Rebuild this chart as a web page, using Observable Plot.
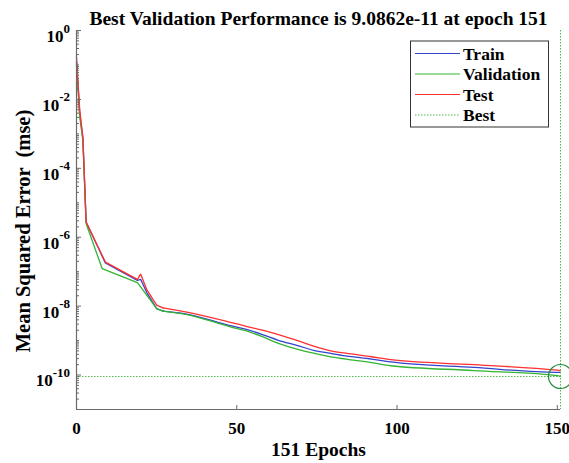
<!DOCTYPE html>
<html><head><meta charset="utf-8">
<script src="https://cdn.jsdelivr.net/npm/d3@7"></script>
<script src="https://cdn.jsdelivr.net/npm/@observablehq/plot@0.6"></script>
<style>
html,body{margin:0;padding:0;background:#fff;}
svg{display:block;}
</style>
</head><body><div id="chart"></div>
<script>
// ---------- data ----------
const titleText = "Best Validation Performance is 9.0862e-11 at epoch 151";
const xLabelText = "151 Epochs";
const yLabelText = "Mean Squared Error  (mse)";
const seriesNames = ["Train", "Validation", "Test"];
const seriesColors = ["#3344cc", "#33b533", "#ff3030"];
const bestName = "Best";
const bestColor = "#4cb84c";
const circleColor = "#1e8c3c";

const trainEpochs = [0, 1, 2, 3, 9, 19, 20, 22, 25, 27, 34, 48, 53, 58, 63, 69, 74, 79, 84, 92, 98, 124, 150, 151];
const trainMse = [1.25e-1, 4.0e-3, 7.0e-4, 2.75e-6, 1.8e-7, 5.6e-8, 6.0e-8, 2.4e-8, 8.5e-9, 7.2e-9, 6.0e-9, 2.7e-9, 2.1e-9, 1.5e-9, 1.02e-9, 7.2e-10, 5.2e-10, 4.3e-10, 3.6e-10, 2.9e-10, 2.4e-10, 1.66e-10, 1.2e-10, 1.2e-10];

const valEpochs = [0, 1, 2, 3, 8, 19, 20, 25, 27, 34, 48, 53, 58, 63, 69, 74, 79, 84, 92, 98, 124, 150, 151];
const valMse = [1.0e-1, 3.2e-3, 6.3e-4, 2.5e-6, 1.23e-7, 4.8e-8, 3.6e-8, 8.5e-9, 7.2e-9, 5.8e-9, 2.5e-9, 1.9e-9, 1.3e-9, 8.3e-10, 5.6e-10, 4.3e-10, 3.4e-10, 2.9e-10, 2.3e-10, 1.86e-10, 1.35e-10, 9.6e-11, 9.0862e-11];

const testEpochs = [0, 1, 2, 3, 9, 19, 20, 22, 25, 27, 34, 48, 53, 58, 63, 69, 74, 79, 84, 92, 98, 124, 150, 151];
const testMse = [1.7e-1, 5.0e-3, 8.0e-4, 2.75e-6, 1.9e-7, 6.0e-8, 8.5e-8, 2.9e-8, 1.07e-8, 8.9e-9, 6.8e-9, 3.4e-9, 2.6e-9, 2.0e-9, 1.5e-9, 1.0e-9, 6.9e-10, 5.1e-10, 4.3e-10, 3.4e-10, 2.8e-10, 2.0e-10, 1.38e-10, 1.35e-10];

const bestEpoch = 151;
const bestPerf = 9.0862e-11;

const xDomain = [0, 151];
const yDomain = [1e-11, 1];
const xTicks = [0, 50, 100, 150];
const yTicks = [1, 1e-2, 1e-4, 1e-6, 1e-8, 1e-10];
const yMinorTicks = [];
for (let k = -11; k <= -1; k++) {
  for (let m = 1; m <= 9; m++) {
    if (m === 1 && (k % 2 === 0)) continue;
    yMinorTicks.push(+(m + "e" + k));
  }
}
const smoothFrom = 27; // epochs after this are drawn with a smooth curve

// ---------- build ----------
const epochLists = [trainEpochs, valEpochs, testEpochs];
const mseLists = [trainMse, valMse, testMse];
const series = seriesNames.map((name, i) => ({
  name, color: seriesColors[i],
  rows: epochLists[i].map((e, j) => ({epoch: e, mse: mseLists[i][j]}))
}));

const fontFamily = '"Liberation Serif","Times New Roman",Times,serif';
const axisColor = "#6a6a6a";

const lineMarks = [];
series.forEach(s => {
  lineMarks.push(Plot.line(s.rows.filter(r => r.epoch <= smoothFrom), {x: "epoch", y: "mse", stroke: s.color, strokeWidth: 1.3, curve: "linear"}));
  lineMarks.push(Plot.line(s.rows.filter(r => r.epoch >= smoothFrom), {x: "epoch", y: "mse", stroke: s.color, strokeWidth: 1.3, curve: "monotone-x"}));
});

const chart = Plot.plot({
  width: 569, height: 463,
  marginLeft: 76, marginRight: 9, marginTop: 30, marginBottom: 54,
  style: {fontFamily, fontWeight: "bold", fontSize: "17px", color: "#000", background: "#fff", overflow: "visible"},
  x: {domain: xDomain},
  y: {type: "log", domain: yDomain},
  marks: [
    ...lineMarks,
    Plot.ruleY([bestPerf], {stroke: bestColor, strokeWidth: 1, strokeDasharray: "1.5,1.5"}),
    Plot.ruleX([bestEpoch], {stroke: bestColor, strokeWidth: 1, strokeDasharray: "1.5,1.5"}),
    Plot.dot([{epoch: bestEpoch, mse: bestPerf}], {x: "epoch", y: "mse", r: 12, stroke: circleColor, strokeWidth: 1.2, fill: "none"}),
    Plot.ruleX([xDomain[0]], {stroke: axisColor, strokeWidth: 1.2}),
    Plot.ruleY([yDomain[0]], {stroke: axisColor, strokeWidth: 1.2}),
    Plot.axisY({ticks: yMinorTicks, tickSize: -3, tickFormat: () => "", label: null, stroke: axisColor}),
    Plot.axisY({ticks: yTicks, tickSize: -5, tickFormat: () => "", label: null, stroke: axisColor}),
    Plot.axisY({ticks: yTicks, tickSize: 0, tickPadding: 6.5, dy: 6, fontSize: 17, tickFormat: d => "EXP" + Math.round(Math.log10(d)), label: null}),
    Plot.axisX({ticks: xTicks, tickSize: -4, tickFormat: () => "", label: null, stroke: axisColor}),
    Plot.axisX({ticks: xTicks, tickSize: 0, tickPadding: 12, fontSize: 17, label: null})
  ]
});

const svg = d3.select(chart);
// superscript y tick labels
svg.selectAll("text").each(function () {
  const t = this.textContent;
  if (t && t.startsWith("EXP")) {
    const exp = t.slice(3);
    const el = d3.select(this);
    el.text(null);
    el.append("tspan").text("10");
    el.append("tspan").attr("dy", -9.4).attr("font-size", 13).text(exp);
  }
});

const g = svg.append("g").attr("font-family", fontFamily).attr("font-weight", "bold").attr("fill", "#000");
g.append("text").attr("x", 318.5).attr("y", 25).attr("text-anchor", "middle").attr("font-size", 19.5).text(titleText);
g.append("text").attr("x", 318.5).attr("y", 456).attr("text-anchor", "middle").attr("font-size", 19.5).text(xLabelText);
g.append("text").attr("transform", "translate(29.5,231) rotate(-90)").attr("text-anchor", "middle")
  .attr("font-size", 20.5).style("white-space", "pre").text(yLabelText);

// legend
const lg = g.append("g");
lg.append("rect").attr("x", 410.5).attr("y", 41).attr("width", 138).attr("height", 86)
  .attr("fill", "#fff").attr("stroke", "#333").attr("stroke-width", 1);
const legendItems = series.map(s => ({name: s.name, color: s.color, dash: null}))
  .concat([{name: bestName, color: bestColor, dash: "1.5,1.5"}]);
const legendY = [53.5, 74, 94.5, 115];
legendItems.forEach((it, i) => {
  const y = legendY[i];
  lg.append("line").attr("x1", 415).attr("x2", 460).attr("y1", y).attr("y2", y)
    .attr("stroke", it.color).attr("stroke-width", 1.2).attr("stroke-dasharray", it.dash);
  lg.append("text").attr("x", 463).attr("y", y + 6).attr("text-anchor", "start").attr("font-size", 17.5).text(it.name);
});

document.getElementById("chart").appendChild(chart);
</script>
</body></html>
